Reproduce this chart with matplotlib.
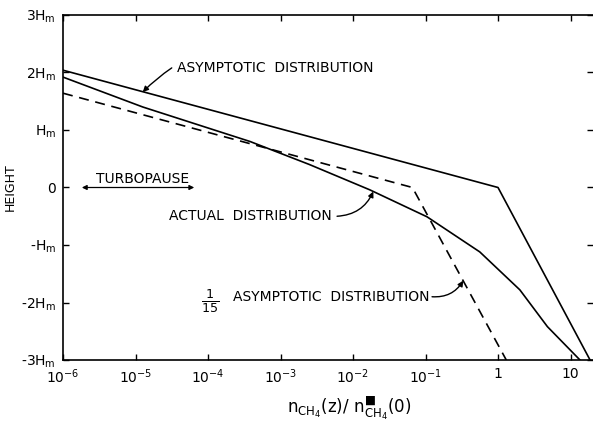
"""
Methane height profile: asymptotic, 1/15 asymptotic and actual distribution.
"""

import matplotlib
matplotlib.use('Agg')
import matplotlib.pyplot as plt

# Values (x: density ratio, y: height in units of Hm)
asym_x = [1e-6, 1.0, 18.6]
asym_h = [2.04, 0.0, -3.0]

frac_x = [1e-6, 0.066, 1.3]
frac_h = [1.64, 0.0, -3.0]

actual_x = [1e-6, 1.26e-5, 3.8e-4, 2.5e-3, 1.7e-2, 0.105, 0.56, 2.0, 4.8, 13.5]
actual_h = [1.92, 1.40, 0.80, 0.40, -0.04, -0.51, -1.12, -1.78, -2.42, -3.0]

x_ticks = [1e-6, 1e-5, 1e-4, 1e-3, 1e-2, 1e-1, 1, 10]
x_labels = [r'$10^{-6}$', r'$10^{-5}$', r'$10^{-4}$', r'$10^{-3}$',
            r'$10^{-2}$', r'$10^{-1}$', '1', '10']
y_ticks = [-3, -2, -1, 0, 1, 2, 3]
y_labels = [r'-3H$_\mathrm{m}$', r'-2H$_\mathrm{m}$', r'-H$_\mathrm{m}$', '0',
            r'H$_\mathrm{m}$', r'2H$_\mathrm{m}$', r'3H$_\mathrm{m}$']

fig = plt.figure(figsize=(5.93, 4.23), dpi=100)
ax = fig.add_axes([63 / 593, 1 - 360 / 423, 530 / 593, 345 / 423])

lw = 1.2
ax.plot(asym_x, asym_h, color='black', lw=lw)
ax.plot(frac_x, frac_h, color='black', lw=lw, dashes=(6, 4))
ax.plot(actual_x, actual_h, color='black', lw=lw)

ax.set_xscale('log')
ax.set_xlim(1e-6, 10 ** 1.31)
ax.set_ylim(-3, 3)
ax.set_xticks(x_ticks)
ax.set_xticklabels(x_labels)
ax.set_yticks(y_ticks)
ax.set_yticklabels(y_labels)
ax.minorticks_off()
ax.tick_params(direction='in', length=4, width=1, top=True, right=True,
               labelsize=10, pad=5)
ax.spines['right'].set_visible(False)
for s in ['left', 'bottom', 'top']:
    ax.spines[s].set_linewidth(1.2)

ax.set_ylabel('HEIGHT', fontsize=9)
ax.yaxis.set_label_coords(-0.087, 0.5)
ax.set_xlabel(r'$\mathrm{n_{CH_4}(z)/\ n^{\blacksquare}_{CH_4}(0)}$',
              fontsize=12)
ax.xaxis.set_label_coords(0.54, -0.10)

txt = dict(fontsize=10, color='black', va='center')
arrow = dict(arrowstyle='-|>', color='black', lw=1, mutation_scale=8,
             shrinkA=0, shrinkB=0)

# Asymptotic distribution label
ax.annotate('', xy=(10 ** -4.9, 1.66), xytext=(10 ** -4.5, 2.08),
            arrowprops=dict(arrow, connectionstyle='arc3,rad=0.05'))
ax.text(10 ** -4.43, 2.08, 'ASYMPTOTIC  DISTRIBUTION', ha='left', **txt)

# Turbopause
ax.annotate('', xy=(10 ** -5.74, 0), xytext=(10 ** -4.19, 0),
            arrowprops=dict(arrowstyle='<|-|>', color='black', lw=0.9,
                            mutation_scale=7, shrinkA=0, shrinkB=0))
ax.text(10 ** -5.54, 0.15, 'TURBOPAUSE', ha='left', **txt)

# Actual distribution
ax.text(10 ** -4.54, -0.5, 'ACTUAL  DISTRIBUTION', ha='left', **txt)
ax.annotate('', xy=(10 ** -1.72, -0.07), xytext=(10 ** -2.22, -0.5),
            arrowprops=dict(arrow, connectionstyle='arc3,rad=0.3'))

# 1/15 asymptotic distribution
ax.text(10 ** -3.97, -1.98, r'$\frac{1}{15}$', ha='center', fontsize=13,
        va='center')
ax.text(10 ** -3.66, -1.9, 'ASYMPTOTIC  DISTRIBUTION', ha='left', **txt)
ax.annotate('', xy=(10 ** -0.48, -1.62), xytext=(10 ** -0.91, -1.9),
            arrowprops=dict(arrow, connectionstyle='arc3,rad=0.3'))

plt.savefig('out.png', dpi=100)
plt.close()
